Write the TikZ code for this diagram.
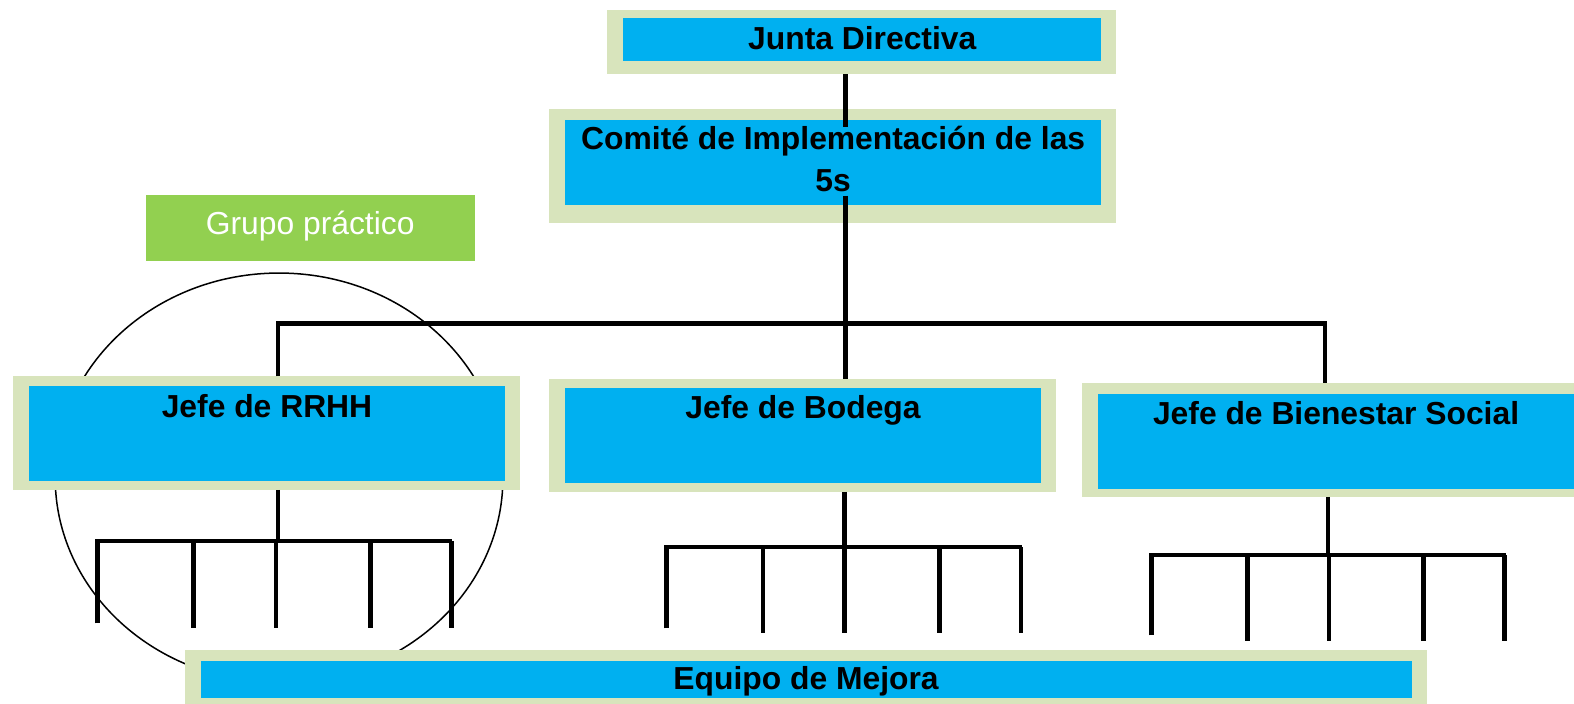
\documentclass[tikz,border=0pt]{standalone}
\usepackage{fontspec}
\setmainfont{Liberation Sans}
\usetikzlibrary{calc}
\definecolor{cblue}{HTML}{00B0F0}
\definecolor{lgreen}{HTML}{D8E4BC}
\definecolor{ggreen}{HTML}{92D050}
\begin{document}
\begin{tikzpicture}[x=1pt,y=-1pt,
  outerbox/.style={fill=lgreen, inner sep=0pt, outer sep=0pt, anchor=north west},
  bluebox/.style={fill=cblue, inner sep=0pt, outer sep=0pt, anchor=north west},
  lbl/.style={font=\bfseries\fontsize{31.7}{38}\selectfont, inner sep=0pt, anchor=base},
  conn/.style={line width=4.6pt, black, line join=miter},
  ring/.style={line width=1.5pt, black}]
\useasboundingbox (0,0) rectangle (1568,701);

% circle (behind boxes)
\draw[ring] (278,476) ellipse [x radius=223, y radius=204];

% Junta Directiva
\node[outerbox, minimum width=507pt, minimum height=64pt] (junta-o) at (605,10) {};
\node[bluebox, minimum width=476pt, minimum height=43pt] (junta) at (621,18) {};
\node[lbl] (junta-t) at (859,49) {Junta Directiva};

% Comite
\node[outerbox, minimum width=565pt, minimum height=113pt] (comite-o) at (547,109) {};
\node[bluebox, minimum width=534pt, minimum height=84pt] (comite) at (563,120) {};
\node[lbl] (comite-t1) at (830,149) {Comité de Implementación de las};
\node[lbl] (comite-t2) at (830,191) {5s};

% Grupo practico
\node[fill=ggreen, inner sep=0pt, anchor=north west, minimum width=328pt, minimum height=66pt] (grupo) at (145,194) {};
\node[font=\fontsize{31.7}{38}\selectfont, text=white, inner sep=0pt, anchor=base] (grupo-t) at (309,234) {Grupo práctico};

% Jefe de RRHH
\node[outerbox, minimum width=505pt, minimum height=113pt] (rrhh-o) at (13,375) {};
\node[bluebox, minimum width=474pt, minimum height=94pt] (rrhh) at (29,385) {};
\node[lbl] (rrhh-t) at (266,416) {Jefe de RRHH};

% Jefe de Bodega
\node[outerbox, minimum width=505pt, minimum height=112pt] (bod-o) at (547,378) {};
\node[bluebox, minimum width=474pt, minimum height=94pt] (bod) at (563,387) {};
\node[lbl] (bod-t) at (800,417) {Jefe de Bodega};

% Jefe de Bienestar Social
\node[outerbox, minimum width=490pt, minimum height=113pt] (bien-o) at (1078,382) {};
\node[bluebox, minimum width=474pt, minimum height=95pt] (bien) at (1094,392) {};
\node[lbl] (bien-t) at (1331,423) {Jefe de Bienestar Social};

% Equipo de Mejora
\node[outerbox, minimum width=1238pt, minimum height=53pt] (equipo-o) at (184,648) {};
\node[bluebox, minimum width=1207pt, minimum height=37pt] (equipo) at (200,658) {};
\node[lbl] (equipo-t) at (803,687) {Equipo de Mejora};

% main connectors
\coordinate (jc) at (842,127);
\draw[conn] (junta-o.south -| jc) -- (jc);
\coordinate (cs) at (842,195);
\draw[conn] (cs) -- (bod-o.north -| cs);
\coordinate (tl) at (277,322);
\coordinate (tr) at (1320,322);
\draw[conn] (rrhh-o.north -| tl) -- (tl) -- (tr) -- (bien-o.north -| tr);

% RRHH team
\coordinate (rh) at (277,539);
\draw[conn] (rrhh-o.south -| rh) -- (rh);
\draw[conn] (97,621) -- (97,539) -- (450,539);
\foreach \x in {193,275,369,450} \draw[conn] (\x,539) -- (\x,626);

% Bodega team
\coordinate (bh) at (841,545);
\draw[conn] (bod-o.south -| bh) -- (bh);
\draw[conn] (664,626) -- (664,545) -- (1018,545);
\foreach \x in {760,841,936,1017} \draw[conn] (\x,545) -- (\x,631);

% Bienestar team
\coordinate (sh) at (1323,553);
\draw[conn] (bien-o.south -| sh) -- (sh);
\draw[conn] (1147,633) -- (1147,553) -- (1500,553);
\foreach \x in {1243,1324,1418,1499} \draw[conn] (\x,553) -- (\x,639);
\end{tikzpicture}
\end{document}
